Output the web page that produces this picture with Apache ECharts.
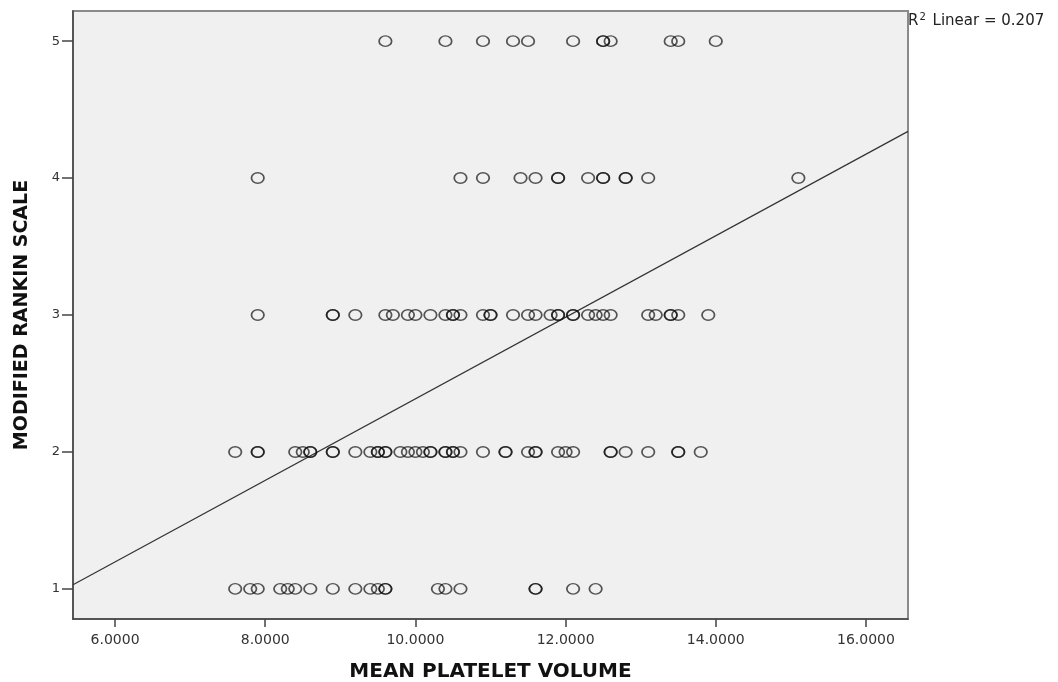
<!DOCTYPE html>
<html>
<head>
    <meta charset="utf-8">
    <script type="text/javascript" src="https://cdn.jsdelivr.net/npm/echarts@6/dist/echarts.min.js"></script>
</head>
<body style="margin:0;background:#fff">
    <div id="main" style="width:1058px;height:682px;"></div>
    <script type="text/javascript">
    // mean platelet volume of each patient, grouped by modified rankin scale score
    let mrs1 = [7.6, 7.8, 7.9, 8.2, 8.3, 8.4, 8.6, 8.9, 9.2, 9.4, 9.5, 9.6, 9.6, 10.3, 10.4, 10.6, 11.6, 11.6, 12.1, 12.4]
    let mrs2 = [7.6, 7.9, 7.9, 8.4, 8.5, 8.6, 8.6, 8.9, 8.9, 9.2, 9.4, 9.5, 9.5, 9.6, 9.6, 9.8, 9.9, 10.0, 10.1, 10.2, 10.2,
                10.4, 10.4, 10.5, 10.5, 10.6, 10.9, 11.2, 11.2, 11.5, 11.6, 11.6, 11.9, 12.0, 12.1, 12.6, 12.6, 12.8, 13.1, 13.5, 13.5, 13.8]
    let mrs3 = [7.9, 8.9, 8.9, 9.2, 9.6, 9.7, 9.9, 10.0, 10.2, 10.4, 10.5, 10.5, 10.6, 10.9, 11.0, 11.0, 11.3, 11.5, 11.6,
                11.8, 11.9, 11.9, 12.1, 12.1, 12.3, 12.4, 12.5, 12.6, 13.1, 13.2, 13.4, 13.4, 13.5, 13.9]
    let mrs4 = [7.9, 10.6, 10.9, 11.4, 11.6, 11.9, 11.9, 12.3, 12.5, 12.5, 12.8, 12.8, 13.1, 15.1]
    let mrs5 = [9.6, 10.4, 10.9, 11.3, 11.5, 12.1, 12.5, 12.5, 12.6, 13.4, 13.5, 14.0]
    let groups = [mrs1, mrs2, mrs3, mrs4, mrs5]

    let xTicks = [6, 8, 10, 12, 14, 16]
    let yTicks = [1, 2, 3, 4, 5]
    let xRange = [5.44, 16.56]
    let yRange = [0.78, 5.22]

    // fit line
    let fitIntercept = -0.589
    let fitSlope = 0.2977
    let rSquare = '0.207'

    let points = []
    groups.forEach((g, i) => g.forEach(v => points.push([v, i + 1])))
    let fitLine = xRange.map(x => [x, fitIntercept + fitSlope * x])

    let myChart = echarts.init(document.getElementById('main'), null, {renderer: 'canvas'})
    let font = 'DejaVu Sans'
    let option = {
        animation: false,
        title: {
            left: 908,
            top: 12,
            padding: 0,
            text: '{r|R}{s|2}{r| Linear = ' + rSquare + '}',
            textStyle: {
                fontWeight: 'normal',
                rich: {
                    r: {fontFamily: font, fontSize: 15, fontWeight: 'normal', color: '#222'},
                    s: {fontFamily: font, fontSize: 10, fontWeight: 'normal', color: '#222', padding: [0, 2, 8, 1]}
                }
            }
        },
        grid: {
            left: 73, right: 150, top: 11, bottom: 63,
            outerBoundsMode: 'none',
            show: true,
            backgroundColor: '#f0f0f0',
            borderColor: '#8a8a8a',
            borderWidth: 2
        },
        xAxis: {
            type: 'value',
            min: xRange[0],
            max: xRange[1],
            name: 'MEAN PLATELET VOLUME',
            nameLocation: 'middle',
            nameGap: 43,
            nameTextStyle: {fontFamily: font, fontWeight: 'bold', fontSize: 20, color: '#111'},
            splitLine: {show: false},
            axisLine: {onZero: false, lineStyle: {color: '#444', width: 1.5}},
            axisTick: {customValues: xTicks, length: 8, lineStyle: {color: '#444', width: 1.5}},
            axisLabel: {
                customValues: xTicks,
                margin: 14,
                fontFamily: font, fontSize: 14, color: '#333',
                formatter: v => v.toFixed(4)
            }
        },
        yAxis: {
            type: 'value',
            min: yRange[0],
            max: yRange[1],
            name: 'MODIFIED RANKIN SCALE',
            nameLocation: 'middle',
            nameGap: 41,
            nameTextStyle: {fontFamily: font, fontWeight: 'bold', fontSize: 19, color: '#111'},
            splitLine: {show: false},
            axisLine: {onZero: false, lineStyle: {color: '#444', width: 1.5}},
            axisTick: {customValues: yTicks, length: 11, lineStyle: {color: '#444', width: 1.5}},
            axisLabel: {
                customValues: yTicks,
                margin: 13,
                fontFamily: font, fontSize: 13, color: '#333'
            }
        },
        series: [{
            name: 'fit',
            type: 'line',
            data: fitLine,
            showSymbol: false,
            silent: true,
            lineStyle: {color: '#333', width: 1.2},
            z: 1
        }, {
            name: 'mpv',
            type: 'scatter',
            data: points,
            symbol: 'circle',
            symbolSize: [12.5, 10.5],
            itemStyle: {
                color: 'rgba(0,0,0,0)',
                borderColor: 'rgba(15,15,15,0.88)',
                borderWidth: 1.6
            },
            z: 2
        }]
    }
    myChart.setOption(option)
    </script>
</body>
</html>
